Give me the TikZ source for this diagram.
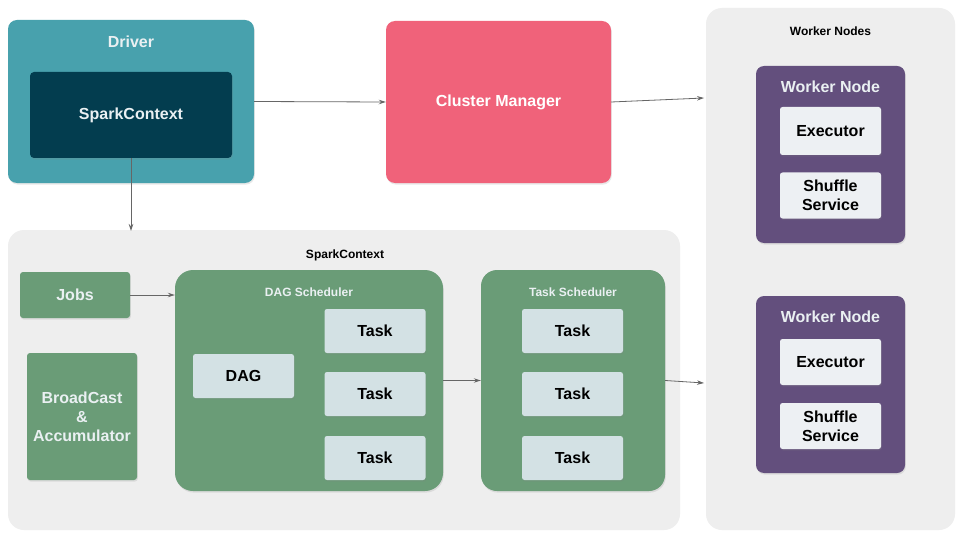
\documentclass[tikz,border=0pt]{standalone}
\usepackage{fontspec}
\setmainfont{Liberation Sans}
\usetikzlibrary{arrows.meta,shadows}
\definecolor{teal}{HTML}{48A1AD}
\definecolor{deep}{HTML}{033D4F}
\definecolor{pinkred}{HTML}{F0627A}
\definecolor{pane}{HTML}{EEEEEE}
\definecolor{purp}{HTML}{634F7D}
\definecolor{grn}{HTML}{6A9C77}
\definecolor{tasklt}{HTML}{D3E1E4}
\definecolor{execlt}{HTML}{EDF0F3}
\definecolor{lighttxt}{HTML}{EAF0F2}
\definecolor{arrcol}{HTML}{666666}
\tikzset{
  shd/.style={drop shadow={opacity=0.18,shadow xshift=0.8pt,shadow yshift=-1.6pt}},
  box/.style={draw=none,inner sep=0pt,align=center,font=\bfseries\fontsize{16}{19}\selectfont},
  panebox/.style={box,fill=pane,rounded corners=16pt},
  smalltitle/.style={inner sep=0pt,font=\bfseries\fontsize{12}{14}\selectfont},
  bigtitle/.style={inner sep=0pt,font=\bfseries\fontsize{16}{19}\selectfont},
  taskbox/.style={box,fill=tasklt,rounded corners=2.5pt,shd,minimum width=101pt,minimum height=44pt,text=black},
  execbox/.style={box,fill=execlt,rounded corners=2.5pt,shd,minimum width=101pt,text=black},
  grnbox/.style={box,fill=grn,rounded corners=3pt,shd,text=lighttxt},
  wnbox/.style={box,fill=purp,rounded corners=8pt,shd,minimum width=149pt,minimum height=177pt},
  arr/.style={draw=arrcol,line width=0.8pt,-{Stealth[length=7pt,width=4.5pt]}}
}
\begin{document}
\begin{tikzpicture}[x=1pt,y=-1pt]
\useasboundingbox[fill=white] (0,0) rectangle (960,540);
% containers
\node[panebox,minimum width=249pt,minimum height=522pt] (wns) at (830.5,269) {};
\node[smalltitle] (wnsT) at (830.5,31) {Worker Nodes};
\node[panebox,minimum width=672pt,minimum height=300pt] (scC) at (344,380) {};
\node[smalltitle] (scCT) at (345,255) {SparkContext};
% driver
\node[box,fill=teal,rounded corners=9pt,shd,minimum width=246pt,minimum height=163pt] (drv) at (131,101.5) {};
\node[bigtitle,text=lighttxt] (drvT) at (131,42) {Driver};
\node[box,fill=deep,rounded corners=4pt,shd,minimum width=202pt,minimum height=86pt,text=lighttxt] (sc) at (131,115) {SparkContext};
% cluster manager
\node[box,fill=pinkred,rounded corners=9pt,shd,minimum width=225pt,minimum height=162pt,text=white] (cm) at (498.5,102) {Cluster Manager};
% worker nodes
\node[wnbox] (wn1) at (830.5,154.5) {};
\node[bigtitle,text=lighttxt] (wn1T) at (830.5,87) {Worker Node};
\node[execbox,minimum height=48pt] (ex1) at (830.5,131) {Executor};
\node[execbox,minimum height=46pt] (sh1) at (830.5,195.5) {Shuffle\\Service};
\node[wnbox] (wn2) at (830.5,384.5) {};
\node[bigtitle,text=lighttxt] (wn2T) at (830.5,317) {Worker Node};
\node[execbox,minimum height=46pt] (ex2) at (830.5,362) {Executor};
\node[execbox,minimum height=46pt] (sh2) at (830.5,426) {Shuffle\\Service};
% jobs and broadcast
\node[grnbox,minimum width=110pt,minimum height=46pt] (jobs) at (75,295) {Jobs};
\node[grnbox,minimum width=110pt,minimum height=127pt] (bc) at (82,416.5) {BroadCast\\\&\\Accumulator};
% DAG scheduler
\node[box,fill=grn,rounded corners=18pt,shd,minimum width=268pt,minimum height=221pt] (dags) at (309,380.5) {};
\node[smalltitle,text=lighttxt] (dagsT) at (309,292) {DAG Scheduler};
\node[taskbox] (dag) at (243.5,376) {DAG};
\node[taskbox] (dt1) at (375,331) {Task};
\node[taskbox] (dt2) at (375,394) {Task};
\node[taskbox] (dt3) at (375,458) {Task};
% task scheduler
\node[box,fill=grn,rounded corners=16pt,shd,minimum width=184pt,minimum height=221pt] (ts) at (573,380.5) {};
\node[smalltitle,text=lighttxt] (tsT) at (573,292) {Task Scheduler};
\node[taskbox] (tt1) at (572.5,331) {Task};
\node[taskbox] (tt2) at (572.5,394) {Task};
\node[taskbox] (tt3) at (572.5,458) {Task};
% connector ends
\coordinate (wnIn1) at (704,98);
\coordinate (wnIn2) at (704,383);
\coordinate (scIn) at (131,231);
% connectors
\draw[arr] (drv.east) -- (cm.west);
\draw[arr] (cm.east) -- (wnIn1);
\draw[arr] (sc.south) -- (scIn);
\draw[arr] (jobs.east) -- (dags.west |- jobs.east);
\draw[arr] (dags.east) -- (ts.west);
\draw[arr] (ts.east) -- (wnIn2);
\end{tikzpicture}
\end{document}
